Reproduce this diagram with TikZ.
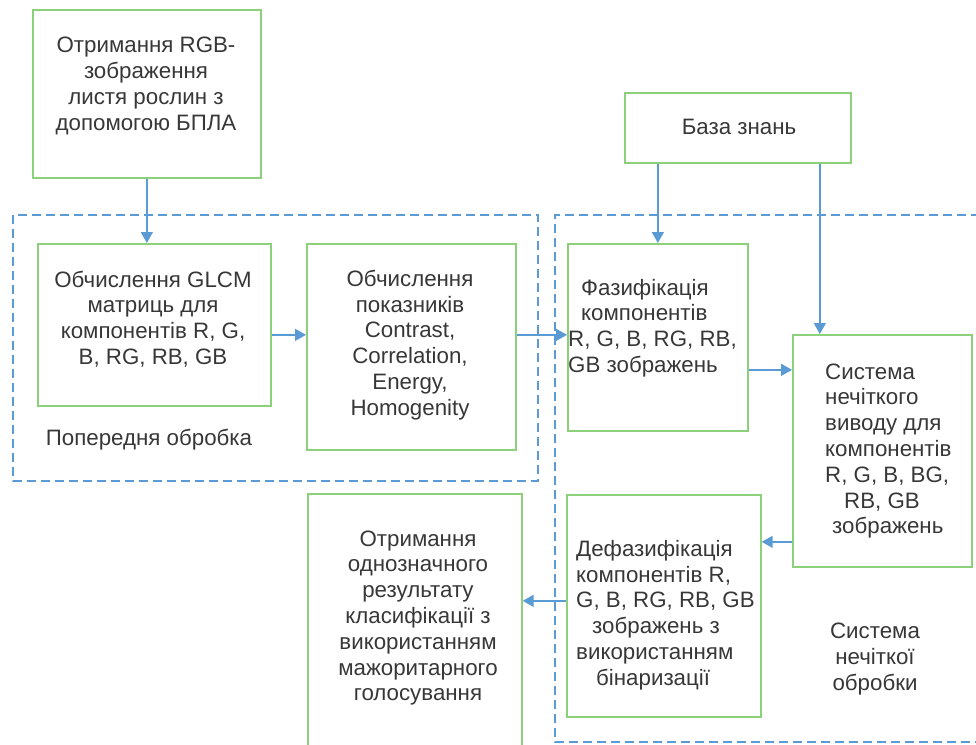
\documentclass[tikz,border=0pt]{standalone}
\usepackage{fontspec}
\setmainfont{Liberation Sans}
\usetikzlibrary{arrows.meta}
\definecolor{boxgreen}{RGB}{141,208,122}
\definecolor{lineblue}{RGB}{91,155,213}
\definecolor{txtgray}{RGB}{55,55,55}
\begin{document}
\begin{tikzpicture}[x=1pt,y=-1pt,
  box/.style={draw=boxgreen, line width=1.7pt, inner sep=0pt, anchor=north west},
  txt/.style={text=txtgray, font=\fontsize{22.3}{25.8}\selectfont, align=center, inner sep=0pt},
  txtl/.style={txt, align=left, anchor=west},
  arr/.style={draw=lineblue, line width=1.5pt, -{Triangle[length=11pt,width=12pt]}},
  grp/.style={draw=lineblue, line width=2.6pt, dash pattern=on 9pt off 5pt}]
\useasboundingbox (0,0) rectangle (976,744);
\clip (0,0) rectangle (976,744);
% groups
\draw[grp] (13,215) rectangle (538,481);
\draw[grp] (980,215) -| (555,742) -- (980,742);
% boxes
\node[box, minimum width=228pt, minimum height=168pt] (b1) at (32,9) {};
\node[box, minimum width=226pt, minimum height=70pt] (kb) at (624,92) {};
\node[box, minimum width=233pt, minimum height=162pt] (g1) at (37,243) {};
\node[box, minimum width=209pt, minimum height=206pt] (c1) at (306,243) {};
\node[box, minimum width=180pt, minimum height=187pt] (f1) at (567,243) {};
\node[box, minimum width=179pt, minimum height=232pt] (s1) at (792,334) {};
\node[box, minimum width=194pt, minimum height=222pt] (d1) at (566,494) {};
\node[box, minimum width=214pt, minimum height=280pt] (o1) at (307,493) {};
% texts
\node[txt] (t1) at (146,86) {Отримання RGB-\\зображення\\листя рослин з\\допомогою БПЛА};
\node[txt] (tkb) at (739,127) {База знань};
\node[txt] (tg1) at (153,319) {Обчислення GLCM\\матриць для\\компонентів R, G,\\B, RG, RB, GB};
\node[txt] (tc1) at (410,345) {Обчислення\\показників\\Contrast,\\Correlation,\\Energy,\\Homogenity};
\node[txtl] (tf1) at (568,328) {\hspace*{13pt}Фазифікація\\\hspace*{13pt}компонентів\\R, G, B, RG, RB,\\GB зображень};
\node[txtl] (ts1) at (825,451) {Система\\нечіткого\\виводу для\\компонентів\\R, G, B, BG,\\\hspace*{19pt}RB, GB\\\hspace*{7pt}зображень};
\node[txtl] (td1) at (576,615) {Дефазифікація\\компонентів R,\\G, B, RG, RB, GB\\\hspace*{16pt}зображень з\\використанням\\\hspace*{20pt}бінаризації};
\node[txt] (to1) at (418,618) {Отримання\\однозначного\\результату\\класифікації з\\використанням\\мажоритарного\\голосування};
\node[txt] (lp) at (149,440) {Попередня обробка};
\node[txt] (ls) at (875,659) {Система\\нечіткої\\обробки};
% arrows
\draw[arr] (b1.south) -- (b1.south |- g1.north);
\draw[arr] ([yshift=-10pt]g1.east) -- ([yshift=-10pt]g1.east -| c1.west);
\draw[arr] ([yshift=12pt]c1.east) -- ([yshift=12pt]c1.east -| f1.west);
\draw[arr] ([xshift=-80pt]kb.south) -- ([xshift=-80pt]kb.south |- f1.north);
\draw[arr] ([xshift=82pt]kb.south) -- ([xshift=82pt]kb.south |- s1.north);
\draw[arr] ([yshift=-32.5pt]f1.east) -- ([yshift=-32.5pt]f1.east -| s1.west);
\draw[arr] ([yshift=-91pt]s1.west) -- ([yshift=-91pt]s1.west -| d1.east);
\draw[arr] ([yshift=5pt]d1.west) -- ([yshift=5pt]d1.west -| o1.east);
\end{tikzpicture}
\end{document}
